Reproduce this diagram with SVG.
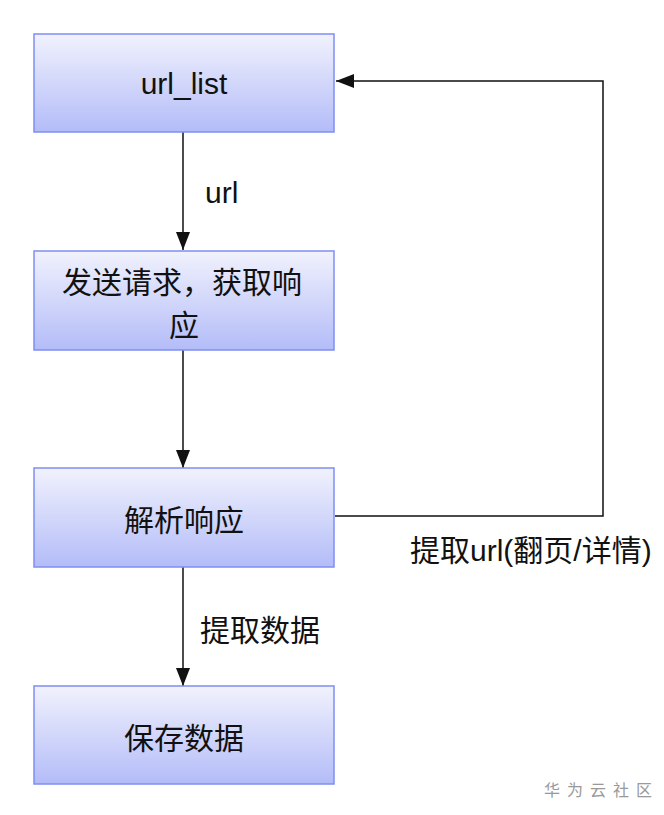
<svg xmlns="http://www.w3.org/2000/svg" width="664" height="815" viewBox="0 0 664 815">
<style>
.box{fill:url(#g);stroke:#7f8ff2;stroke-width:1.5}
.t{font-family:"Liberation Sans","Noto Sans CJK SC",sans-serif;font-size:30px;fill:#111;text-anchor:middle}
.lbl{font-family:"Liberation Sans","Noto Sans CJK SC",sans-serif;font-size:30px;fill:#111}
.c{fill:none;stroke:#111;stroke-width:1.5}
.wm{font-family:"Noto Sans CJK SC",sans-serif;font-size:16px;fill:#999;letter-spacing:7px}
</style>
<defs>
<linearGradient id="g" x1="0" y1="0" x2="0" y2="1">
<stop offset="0" stop-color="#f1f2fd"/>
<stop offset="1" stop-color="#b3bcf8"/>
</linearGradient>
<marker id="b" markerWidth="18" markerHeight="14" viewBox="0 0 18 14" refX="18" refY="7" orient="auto" markerUnits="userSpaceOnUse">
<path d="M0,0 L18,7 L0,14 Z" fill="#111"/>
</marker>
</defs>
<g id="connectors">
<path class="c" d="M183,132 V250" marker-end="url(#b)"/>
<path class="c" d="M183,350 V468" marker-end="url(#b)"/>
<path class="c" d="M183,567 V686" marker-end="url(#b)"/>
<path class="c" d="M335,516 H603 V81 H336" marker-end="url(#b)"/>
<text class="lbl" x="205" y="203">url</text>
<text class="lbl" x="410" y="561">提取url(翻页/详情)</text>
<text class="lbl" x="200" y="641">提取数据</text>
</g>
<g id="n1">
<rect class="box" x="34" y="34" width="300" height="98"/>
<text class="t" x="184" y="94">url_list</text>
</g>
<g id="n2">
<rect class="box" x="34" y="251" width="300" height="99"/>
<text class="t" x="182" y="293">发送请求，获取响</text>
<text class="t" x="184" y="336">应</text>
</g>
<g id="n3">
<rect class="box" x="34" y="468" width="300" height="99"/>
<text class="t" x="184" y="531">解析响应</text>
</g>
<g id="n4">
<rect class="box" x="34" y="686" width="300" height="98"/>
<text class="t" x="184" y="749">保存数据</text>
</g>
<text class="wm" x="544" y="796">华为云社区</text>
</svg>
